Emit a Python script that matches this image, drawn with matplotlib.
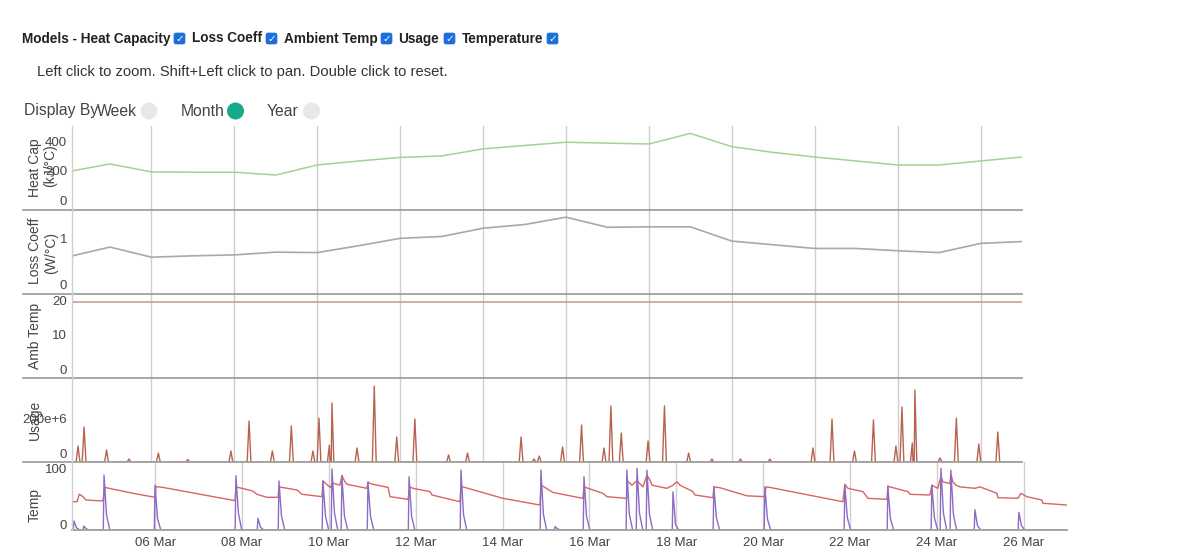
import matplotlib
matplotlib.use("Agg")
import matplotlib.pyplot as plt
import matplotlib.dates as mdates
from matplotlib.transforms import blended_transform_factory, offset_copy
from matplotlib.patches import FancyBboxPatch, Circle
import numpy as np
import pandas as pd

plt.rcParams['font.family'] = ['Liberation Sans', 'DejaVu Sans']

W, H = 1201, 554
BASE = np.datetime64("2023-03-04T00:00")
X_START_H, X_END_H = 2, 552

# ---------------- data ----------------
# model values, one per day from 04 Mar to 27 Mar
model_day = list(range(24))
heat_capacity = [260, 312, 258, 256, 256, 237, 305, 332, 356, 366, 414, 437,
                 459, 453, 447, 519, 429, 390, 359, 332, 305, 305, 332, 359]
loss_coeff = [0.81, 1.02, 0.80, 0.83, 0.85, 0.91, 0.90, 1.05, 1.21, 1.25, 1.43, 1.51,
              1.67, 1.45, 1.46, 1.46, 1.15, 1.07, 0.99, 0.99, 0.94, 0.90, 1.10, 1.14]
ambient_temp = [22] * 24

# usage spikes: hours after 04 Mar 00:00, peak in millions
usage_hour = [5.5, 9, 22, 35, 52, 69, 94, 104.5, 118, 129, 141.5, 145, 151, 152.5,
              167, 177, 190, 200.5, 220, 231, 262, 269.5, 272.5, 286, 297, 310, 314,
              320, 335.5, 345, 359, 372.5, 389, 406, 431, 442, 455, 466, 479, 482.5,
              488.5, 490, 504.5, 514, 527, 538]
usage_value = [91, 200, 69, 17, 51, 15, 63, 234, 63, 206, 63, 251, 97, 337,
               80, 434, 143, 246, 40, 51, 143, 17, 34, 86, 211, 80, 320,
               166, 120, 320, 51, 17, 17, 17, 80, 246, 63, 240, 91, 314,
               109, 411, 23, 251, 103, 171]

# indoor temperature trace
temp_hour = [2, 4.8, 6, 8.1, 9.7, 19.1, 20.2, 35.7, 47.9, 48.4, 52.3, 92.1, 92.6, 102,
             104.2, 109.8, 115.9, 116.4, 126.4, 129.1, 140.2, 140.7, 144, 145.1, 145.7,
             150.1, 151.2, 152.9, 154, 165, 165.6, 167.8, 176.7, 177.8, 187.7, 188.8,
             190.5, 199.9, 201, 216.4, 217, 218.1, 240.2, 260.7, 261.2, 267.9, 284.4,
             285, 290, 295.5, 297.7, 308.7, 309, 311.5, 314.3, 317.6, 319.8, 321.5,
             322.6, 330.9, 334.2, 336.4, 338.1, 345.2, 346.3, 356.3, 356.8, 360.1,
             375.1, 385, 385.6, 387.8, 428.1, 429.2, 430.9, 439.2, 442, 452.5, 453,
             454.1, 464.1, 465.2, 476.2, 477.3, 480.6, 482.3, 483.4, 487.3, 487.8,
             488.9, 490.6, 492.8, 501.1, 503.9, 513.3, 513.8, 524.9, 526.5, 529.8,
             538.1, 538.7, 551.9]
temp_value = [50.5, 50.5, 64, 59.5, 53.6, 51.8, 76, 65.5, 58.4, 77.4, 76, 52.4, 77, 69.6,
              63.7, 58.4, 58.4, 77, 71.4, 63.7, 59.5, 87.5, 78, 76, 84,
              80, 97, 86, 81.6, 74.4, 85, 82, 76, 59.5, 54.8, 77,
              74.4, 68.5, 62.5, 50.5, 77, 77, 56.5, 44.6, 80.4, 67, 56.5,
              77, 71.4, 65.5, 59.5, 56.5, 87.5, 80, 88, 77, 98, 89,
              80, 74.4, 80, 86, 80, 68.5, 62.5, 57.7, 77, 75.5,
              61, 59.5, 77, 76, 50.5, 81.6, 74.4, 68.5, 56.5, 54.8, 78.6,
              77, 68.5, 63.7, 62.5, 80, 74.4, 95, 86, 83, 100,
              86, 80, 77, 74.4, 77, 65.5, 57.7, 56.5, 65.5, 59.5,
              53.6, 47.7, 44.6]

# heating flow spikes: hour, peak, value shortly after
heat_hour = [3.1, 8.5, 19.7, 47.9, 92.6, 104.8, 116.4, 140.7, 145.7, 151.2, 165.6, 188.3,
             217, 261.2, 269, 285, 308.7, 314.3, 319.8, 334.2, 356.8, 385, 429.2,
             453, 477.3, 482.3, 487.8, 501.1, 525.4]
heat_peak = [16, 7, 98, 80, 97, 21, 87.5, 87.5, 109, 97, 86, 95,
             107, 107, 6, 95, 107, 110, 107, 68, 77, 77, 80,
             77, 80, 110, 107, 36, 31.6]
heat_tail = [4, 2, 27, 20, 30, 5, 25, 25, 30, 25, 25, 25,
             28, 28, 2, 25, 28, 30, 28, 10, 22, 20, 22,
             20, 22, 30, 28, 8, 8]

tick_days = ["2023-03-06", "2023-03-08", "2023-03-10", "2023-03-12", "2023-03-14",
             "2023-03-16", "2023-03-18", "2023-03-20", "2023-03-22", "2023-03-24",
             "2023-03-26"]


def hnum(hours):
    arr = BASE + (np.asarray(hours, dtype=float) * 60).astype("timedelta64[m]")
    return mdates.date2num(arr)


# ---------------- figure ----------------
fig = plt.figure(figsize=(W / 100, H / 100), dpi=100)


def add_ax(x0, y0, x1, y1):
    ax = fig.add_axes([x0 / W, 1 - y1 / H, (x1 - x0) / W, (y1 - y0) / H])
    ax.set_facecolor("none")
    for s in ax.spines.values():
        s.set_visible(False)
    ax.set_xlim(hnum([X_START_H])[0], hnum([X_END_H])[0])
    ax.set_yticks([])
    ticks = mdates.date2num(np.array(tick_days, dtype="datetime64[m]"))
    ax.set_xticks(ticks)
    ax.tick_params(axis="x", length=0, labelbottom=False)
    ax.grid(axis="x", color="#cfcfcf", lw=1)
    ax.set_axisbelow(True)
    return ax


ax_hc = add_ax(72, 126, 1022, 210)
ax_lc = add_ax(72, 210, 1022, 294)
ax_at = add_ax(72, 294, 1022, 378)
ax_us = add_ax(72, 378, 1022, 462)
ax_t = add_ax(72, 462, 1067, 530)


def ylabels(ax, ticks, labels, dy):
    tr = offset_copy(blended_transform_factory(ax.transAxes, ax.transData),
                     fig=fig, x=-5, y=dy, units="dots")
    for t, l in zip(ticks, labels):
        ax.text(0, t, l, transform=tr, ha="right", va="center", fontsize=9.5,
                color="#444444", clip_on=False)


model_x = hnum(np.array(model_day) * 24)

ax_hc.plot(model_x, heat_capacity, color="#a6d28e", lw=1.1)
ax_hc.set_ylim(0, 569)
ylabels(ax_hc, [0, 200, 400], ["0", "200", "400"], 8)

ax_lc.plot(model_x, loss_coeff, color="#a9a9a9", lw=1.2)
ax_lc.set_ylim(0, 1.826)
ylabels(ax_lc, [0, 1], ["0", "1"], 8)

ax_at.plot(model_x, ambient_temp, color="#c9a090", lw=1.2)
ax_at.set_ylim(0, 24.3)
ylabels(ax_at, [0, 10, 20], ["0", "10", "20"], 7)

# usage line
pts = [(X_START_H, 0.0), (X_END_H, 0.0)]
for h, v in zip(usage_hour, usage_value):
    pts += [(h - 1.1, 0.0), (h, v), (h + 1.1, 0.0)]
pts.sort(key=lambda p: p[0])
ux = hnum([p[0] for p in pts])
uy = [p[1] for p in pts]
ax_us.plot(ux, uy, color="#b8634f", lw=1.0)
ax_us.set_ylim(0, 480)
ylabels(ax_us, [0, 200], ["0", "200e+6"], 7)

# temperature panel
ax_t.plot(hnum(temp_hour), temp_value, color="#d86464", lw=1.0, zorder=3)
hp = [(X_START_H, 0.0), (X_END_H, 0.0)]
for h, p, t in zip(heat_hour, heat_peak, heat_tail):
    hp += [(h - 0.4, 0.0), (h, p), (h + 1.4, t), (h + 3.2, 0.0)]
hp.sort(key=lambda p: p[0])
ax_t.plot(hnum([p[0] for p in hp]), [p[1] for p in hp], color="#8c6cc4", lw=1.0, zorder=4)
ax_t.set_ylim(0, 121.4)
ylabels(ax_t, [0, 100], ["0", "100"], 4)
ax_t.xaxis.set_major_formatter(mdates.DateFormatter("%d %b"))
ax_t.tick_params(axis="x", labelbottom=True, labelsize=9.5, labelcolor="#444444", pad=5)

# ---------------- overlay (pixel coordinates) ----------------
ov = fig.add_axes([0, 0, 1, 1], zorder=10)
ov.set_xlim(0, W)
ov.set_ylim(H, 0)
ov.axis("off")
ov.set_facecolor("none")

for y in [210, 294, 378, 462]:
    ov.plot([23, 1022], [y, y], color="#a0a0a0", lw=1.3)
ov.plot([72, 1067], [530, 530], color="#a0a0a0", lw=1.3)
ov.plot([72, 72], [126, 530], color="#cfcfcf", lw=1.0)

tc = "#444444"
ov.text(35, 168, "Heat Cap", rotation=90, ha="center", va="center", fontsize=10, color=tc)
ov.text(50, 166, "(kJ/°C)", rotation=90, ha="center", va="center", fontsize=10, color=tc)
ov.text(35, 251, "Loss Coeff", rotation=90, ha="center", va="center", fontsize=10, color=tc)
ov.text(51, 253, "(W/°C)", rotation=90, ha="center", va="center", fontsize=10, color=tc)
ov.text(35, 336, "Amb Temp", rotation=90, ha="center", va="center", fontsize=10, color=tc)
ov.text(35, 420, "Usage", rotation=90, ha="center", va="center", fontsize=10, color=tc)
ov.text(35, 505, "Temp", rotation=90, ha="center", va="center", fontsize=10, color=tc)

# header
hy = 38.5
head = [("Models - Heat Capacity", 22, 174), ("Loss Coeff", 192, 266),
        ("Ambient Temp", 284, 381), ("Usage", 398, 444), ("Temperature", 462, 547)]
for label, tx, cx in head:
    ov.text(tx, hy, label, fontsize=9.8, fontweight="bold", color="#222222",
            ha="left", va="center")
    ov.add_patch(FancyBboxPatch((cx, hy - 5.5), 11, 11,
                                boxstyle="round,pad=0,rounding_size=2",
                                fc="#1c6fd9", ec="#1c6fd9", lw=0.5))
    ov.text(cx + 5.5, hy + 0.5, "✓", fontsize=7.5, color="white", ha="center",
            va="center", fontweight="bold", family="DejaVu Sans")

ov.text(37, 72, "Left click to zoom. Shift+Left click to pan. Double click to reset.",
        fontsize=10.6, color="#333333", ha="left", va="center")

ov.text(24, 111, "Display By", fontsize=11.3, color="#444444", ha="left", va="center")
ov.text(97, 111, "Week", fontsize=11.3, color="#444444", ha="left", va="center")
ov.add_patch(Circle((149, 111), 8.5, fc="#e8e8e8", ec="none"))
ov.text(181, 111, "Month", fontsize=11.3, color="#444444", ha="left", va="center")
ov.add_patch(Circle((235.5, 111), 8.5, fc="#17a98b", ec="none"))
ov.text(267, 111, "Year", fontsize=11.3, color="#444444", ha="left", va="center")
ov.add_patch(Circle((311.5, 111), 8.5, fc="#e8e8e8", ec="none"))

fig.savefig("out.png", dpi=100)
